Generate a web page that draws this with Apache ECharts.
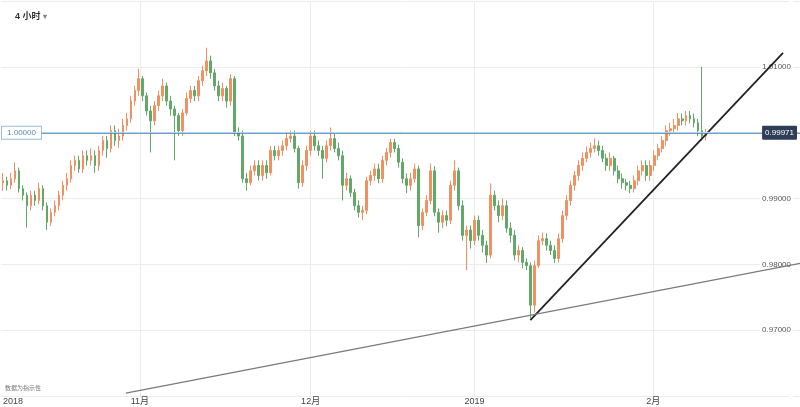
<!DOCTYPE html>
<html><head><meta charset="utf-8">
<script src="https://cdn.jsdelivr.net/npm/echarts@6/dist/echarts.min.js"></script>
<style>html,body{margin:0;padding:0;background:#fff}#c{width:800px;height:407px}</style>
</head><body><div id="c"></div>
<script>
// 4-hour candles, index 0..176 (Oct 2018 -> Feb 2019)
const opens=[0.9924,0.9927,0.9920,0.9930,0.9942,0.9915,0.9905,0.9889,0.9905,0.9897,
0.9915,0.9889,0.9864,0.9879,0.9889,0.9905,0.9920,0.9930,0.9950,0.9958,
0.9945,0.9965,0.9958,0.9965,0.9950,0.9973,0.9988,0.9976,1.0003,0.9988,
0.9995,1.0011,1.0021,1.0048,1.0064,1.0082,1.0056,1.0033,1.0018,1.0041,
1.0056,1.0071,1.0048,1.0036,1.0026,1.0003,1.0030,1.0052,1.0064,1.0056,
1.0079,1.0094,1.0109,1.0091,1.0071,1.0056,1.0067,1.0048,1.0082,1.0000,
0.9995,0.9930,0.9924,0.9942,0.9950,0.9935,0.9950,0.9939,0.9973,0.9965,
0.9973,0.9980,0.9991,0.9995,0.9976,0.9924,0.9950,0.9973,0.9995,0.9980,
0.9973,0.9961,0.9980,0.9991,0.9976,0.9965,0.9920,0.9930,0.9909,0.9889,
0.9879,0.9882,0.9927,0.9935,0.9945,0.9930,0.9958,0.9970,0.9985,0.9976,
0.9955,0.9930,0.9920,0.9930,0.9945,0.9859,0.9879,0.9897,0.9942,0.9879,
0.9864,0.9874,0.9867,0.9920,0.9942,0.9889,0.9844,0.9852,0.9836,0.9867,
0.9844,0.9829,0.9814,0.9905,0.9889,0.9874,0.9889,0.9855,0.9844,0.9814,
0.9821,0.9803,0.9798,0.9738,0.9798,0.9836,0.9839,0.9829,0.9821,0.9809,
0.9839,0.9874,0.9897,0.9920,0.9935,0.9950,0.9961,0.9970,0.9976,0.9980,
0.9973,0.9961,0.9950,0.9961,0.9942,0.9930,0.9924,0.9920,0.9915,0.9927,
0.9942,0.9950,0.9935,0.9950,0.9965,0.9976,0.9988,1.0003,1.0006,1.0011,
1.0021,1.0018,1.0026,1.0021,1.0015,1.0003,0.9995];
const closes=[0.9927,0.9920,0.9930,0.9942,0.9915,0.9905,0.9889,0.9905,0.9897,0.9915,
0.9889,0.9864,0.9879,0.9889,0.9905,0.9920,0.9930,0.9950,0.9958,0.9945,
0.9965,0.9958,0.9965,0.9950,0.9973,0.9988,0.9976,1.0003,0.9988,0.9995,
1.0011,1.0021,1.0048,1.0064,1.0082,1.0056,1.0033,1.0018,1.0041,1.0056,
1.0071,1.0048,1.0036,1.0026,1.0003,1.0030,1.0052,1.0064,1.0056,1.0079,
1.0094,1.0109,1.0091,1.0071,1.0056,1.0067,1.0048,1.0082,1.0000,0.9995,
0.9930,0.9924,0.9942,0.9950,0.9935,0.9950,0.9939,0.9973,0.9965,0.9973,
0.9980,0.9991,0.9995,0.9976,0.9924,0.9950,0.9973,0.9995,0.9980,0.9973,
0.9961,0.9980,0.9991,0.9976,0.9965,0.9920,0.9930,0.9909,0.9889,0.9879,
0.9882,0.9927,0.9935,0.9945,0.9930,0.9958,0.9970,0.9985,0.9976,0.9955,
0.9930,0.9920,0.9930,0.9945,0.9859,0.9879,0.9897,0.9942,0.9879,0.9864,
0.9874,0.9867,0.9920,0.9942,0.9889,0.9844,0.9852,0.9836,0.9867,0.9844,
0.9829,0.9814,0.9905,0.9889,0.9874,0.9889,0.9855,0.9844,0.9814,0.9821,
0.9803,0.9798,0.9738,0.9798,0.9836,0.9839,0.9829,0.9821,0.9809,0.9839,
0.9874,0.9897,0.9920,0.9935,0.9950,0.9961,0.9970,0.9976,0.9980,0.9973,
0.9961,0.9950,0.9961,0.9942,0.9930,0.9924,0.9920,0.9915,0.9927,0.9942,
0.9950,0.9935,0.9950,0.9965,0.9976,0.9988,1.0003,1.0006,1.0011,1.0021,
1.0018,1.0026,1.0021,1.0015,1.0003,0.9995,0.99971];
const highs=[0.9939,0.9933,0.9939,0.9955,0.9947,0.9920,0.9909,0.9912,0.9912,0.9924,
0.9920,0.9894,0.9885,0.9897,0.9912,0.9927,0.9939,0.9958,0.9965,0.9965,
0.9973,0.9973,0.9976,0.9973,0.9980,0.9995,0.9995,1.0011,1.0011,1.0006,
1.0021,1.0030,1.0056,1.0071,1.0097,1.0086,1.0061,1.0041,1.0048,1.0064,
1.0082,1.0076,1.0056,1.0041,1.0030,1.0036,1.0061,1.0071,1.0071,1.0086,
1.0102,1.0129,1.0117,1.0097,1.0079,1.0076,1.0071,1.0089,1.0086,1.0008,
1.0003,0.9939,0.9950,0.9958,0.9958,0.9958,0.9958,0.9980,0.9980,0.9980,
0.9988,1.0000,1.0003,1.0003,0.9980,0.9958,0.9980,1.0003,1.0003,0.9988,
0.9980,0.9988,1.0008,0.9998,0.9985,0.9973,0.9939,0.9935,0.9915,0.9897,
0.9889,0.9933,0.9942,0.9953,0.9953,0.9965,0.9977,0.9991,0.9991,0.9982,
0.9961,0.9938,0.9939,0.9953,0.9950,0.9885,0.9905,0.9953,0.9949,0.9885,
0.9882,0.9882,0.9927,0.9958,0.9947,0.9897,0.9859,0.9859,0.9874,0.9874,
0.9852,0.9836,0.9923,0.9912,0.9897,0.9900,0.9897,0.9864,0.9852,0.9829,
0.9826,0.9809,0.9803,0.9806,0.9844,0.9848,0.9847,0.9836,0.9829,0.9847,
0.9882,0.9905,0.9927,0.9942,0.9958,0.9970,0.9979,0.9985,0.9991,0.9988,
0.9980,0.9968,0.9970,0.9965,0.9950,0.9938,0.9930,0.9927,0.9935,0.9950,
0.9958,0.9958,0.9958,0.9973,0.9983,0.9995,1.0011,1.0015,1.0021,1.0030,
1.0029,1.0033,1.0033,1.0029,1.0021,1.0100,1.0006];
const lows=[0.9912,0.9912,0.9914,0.9924,0.9909,0.9897,0.9856,0.9882,0.9889,0.9891,
0.9882,0.9852,0.9858,0.9873,0.9882,0.9897,0.9912,0.9924,0.9942,0.9939,
0.9939,0.9950,0.9950,0.9939,0.9942,0.9965,0.9962,0.9970,0.9980,0.9977,
0.9988,1.0003,1.0015,1.0041,1.0056,1.0048,1.0026,0.9970,1.0011,1.0033,
1.0048,1.0041,1.0026,0.9958,0.9995,0.9995,1.0026,1.0045,1.0048,1.0048,
1.0071,1.0086,1.0082,1.0064,1.0048,1.0048,1.0038,1.0041,0.9995,0.9988,
0.9924,0.9912,0.9920,0.9935,0.9927,0.9927,0.9930,0.9935,0.9958,0.9958,
0.9965,0.9973,0.9985,0.9970,0.9915,0.9918,0.9942,0.9965,0.9973,0.9965,
0.9930,0.9955,0.9973,0.9970,0.9958,0.9897,0.9912,0.9902,0.9882,0.9871,
0.9867,0.9876,0.9920,0.9927,0.9923,0.9924,0.9950,0.9962,0.9970,0.9947,
0.9923,0.9908,0.9912,0.9924,0.9841,0.9852,0.9873,0.9891,0.9873,0.9848,
0.9855,0.9858,0.9861,0.9912,0.9882,0.9836,0.9791,0.9824,0.9829,0.9836,
0.9818,0.9802,0.9809,0.9882,0.9864,0.9867,0.9848,0.9833,0.9806,0.9803,
0.9794,0.9791,0.9718,0.9727,0.9794,0.9829,0.9821,0.9814,0.9802,0.9803,
0.9833,0.9867,0.9889,0.9912,0.9927,0.9942,0.9955,0.9962,0.9970,0.9965,
0.9955,0.9942,0.9942,0.9935,0.9923,0.9915,0.9912,0.9908,0.9909,0.9920,
0.9935,0.9927,0.9927,0.9942,0.9958,0.9970,0.9980,0.9995,1.0000,1.0003,
1.0011,1.0011,1.0014,1.0008,0.9995,0.9988,0.9988];

// x-axis labels: position in candle index, text
const xLabelPos=[2.5,34.25,77,118,162.75];
const xLabelText=['2018','11月','12月','2019','2月'];
const monthLinePos=[34.25,77,118,162.75];

// horizontal level, last price
const levelPrice=1.0;
const lastPrice=closes[closes.length-1];

// trend lines: [candle index, price]
const trendUp=[[132,0.97152],[195.25,1.01212]];
const trendLong=[[30.75,0.96045],[199.5,0.98015]];

const FONT='Arial, "Liberation Sans", "Noto Sans CJK SC", sans-serif';
const UP='#ef9162', DOWN='#62a869';

const chart=echarts.init(document.getElementById('c'),null,{renderer:'canvas'});
const candleData=closes.map((c,i)=>[i,opens[i],c,lows[i],highs[i]]);

chart.setOption({
  animation:false,
  textStyle:{fontFamily:FONT},
  title:[
    {text:'4 小时 {a|▾}',left:15,top:12,padding:0,textStyle:{fontFamily:FONT,fontSize:9,fontWeight:'bold',color:'#333',rich:{a:{fontSize:8,color:'#888'}}}},
    {text:'数据为指示性',left:5,top:385,padding:0,textStyle:{fontFamily:FONT,fontSize:6,fontWeight:'normal',color:'#777'}}
  ],
  grid:{left:0,right:0,top:0,bottom:11},
  xAxis:{type:'value',min:-0.5,max:199.5,
    axisLine:{show:false},
    axisTick:{show:false,customValues:monthLinePos},
    splitLine:{show:true,lineStyle:{color:'#ececec',width:1}},
    axisLabel:{customValues:xLabelPos,fontSize:9,color:'#444',margin:1,fontFamily:FONT,
      formatter:v=>{const k=xLabelPos.indexOf(v);return k>=0?xLabelText[k]:'';}}
  },
  yAxis:{type:'value',position:'right',min:0.96,max:1.02,interval:0.01,
    axisLine:{show:false},axisTick:{show:false},
    splitLine:{show:true,lineStyle:{color:'#ececec',width:1}},
    axisLabel:{inside:true,fontSize:8,color:'#555',margin:7,fontFamily:FONT,backgroundColor:'#fff',padding:[1,2],
      formatter:v=>(v<0.965||v>1.015||Math.abs(v-1)<1e-6)?'':v.toFixed(5)}
  },
  series:[
    {type:'candlestick',data:candleData,encode:{x:0,y:[1,2,3,4]},barWidth:2.2,
      itemStyle:{color:UP,color0:DOWN,borderColor:UP,borderColor0:DOWN,borderWidth:1},
      markLine:{silent:true,symbol:'none',animation:false,
        data:[
          {yAxis:levelPrice,lineStyle:{color:'#3f7fb8',width:1.5,type:'solid'},
            label:{show:true,position:'insideStart',distance:[1,0],formatter:levelPrice.toFixed(5),fontSize:8,color:'#5a86ad',
              backgroundColor:'#fff',borderColor:'#9dbbd6',borderWidth:1,padding:[2,5],fontFamily:FONT}},
          {yAxis:lastPrice,lineStyle:{color:'#b9cfe2',width:1,type:'solid'},
            label:{show:true,position:'insideEnd',distance:[3,0],formatter:lastPrice.toFixed(5),fontSize:8,color:'#fff',
              backgroundColor:'#2f3e58',padding:[3,3],borderRadius:1,fontFamily:FONT}}
        ]}
    },
    {type:'line',data:trendUp,showSymbol:false,clip:false,silent:true,
      lineStyle:{color:'#222',width:1.8}},
    {type:'line',data:trendLong,showSymbol:false,clip:false,silent:true,
      lineStyle:{color:'#7a7a7a',width:1.2}}
  ]
});
</script></body></html>
